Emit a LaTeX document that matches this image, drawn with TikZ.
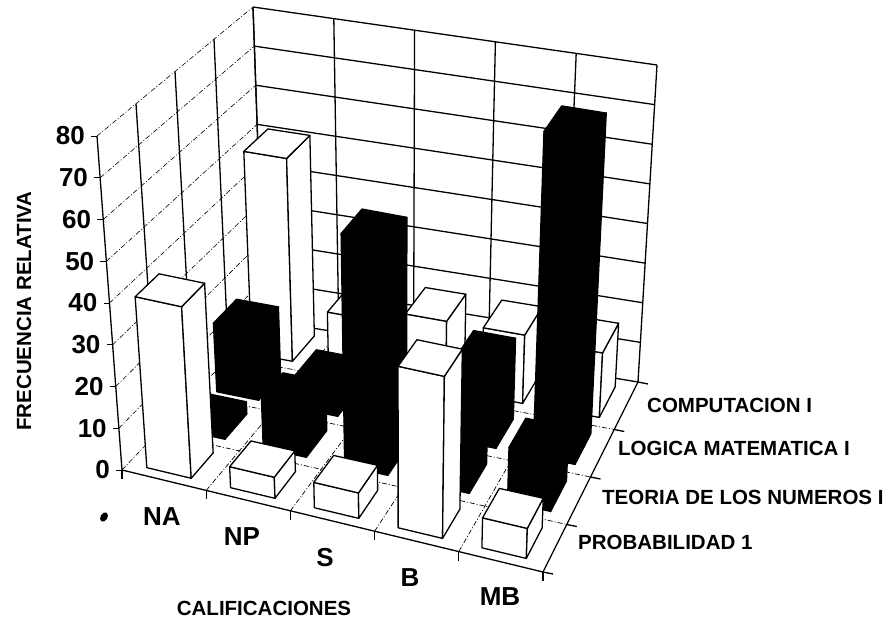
\documentclass[tikz,border=0pt]{standalone}
\usepackage{fontspec}
\setmainfont{Liberation Sans}
\makeatletter
\pgfkeys{/wcs/.cd, x/.store in=\wcsx, y/.store in=\wcsy, z/.store in=\wcsz}
\tikzdeclarecoordinatesystem{w}{%
  \pgfkeys{/wcs/.cd,x=0,y=0,z=0,#1}%
  \pgfmathsetmacro\wcsu{\wcsx/5}%
  \pgfmathsetmacro\wcsv{\wcsy/4}%
  \pgfmathsetmacro\wcst{\wcsz/80}%
  \pgfmathsetmacro\wcsA{(1-\wcsu)*(1-\wcsv)}%
  \pgfmathsetmacro\wcsB{\wcsu*(1-\wcsv)}%
  \pgfmathsetmacro\wcsC{(1-\wcsu)*\wcsv}%
  \pgfmathsetmacro\wcsD{\wcsu*\wcsv}%
  \pgfmathsetmacro\wcsX{(1-\wcst)*(\wcsA*122+\wcsB*543+\wcsC*264+\wcsD*638)+\wcst*(\wcsA*97+\wcsB*556+\wcsC*253+\wcsD*657)}%
  \pgfmathsetmacro\wcsY{(1-\wcst)*(\wcsA*470+\wcsB*572+\wcsC*320+\wcsD*382)+\wcst*(\wcsA*136+\wcsB*227+\wcsC*7+\wcsD*65)}%
  \pgfpoint{\wcsX pt}{-\wcsY pt}%
}
\makeatother
\tikzset{
  wallline/.style={line width=1.3pt},
  thinwall/.style={line width=0.6pt, dash pattern=on 5pt off 2pt on 1pt off 2pt},
  floorline/.style={line width=0.7pt, dash pattern=on 5pt off 2pt on 1pt off 2pt},
  barface/.style={draw=black, line width=1.3pt, line join=round},
  ylab/.style={font=\bfseries\fontsize{26}{26}\selectfont, anchor=east, inner sep=0pt},
  catlab/.style={font=\bfseries\fontsize{26}{26}\selectfont, inner sep=0pt},
  serlab/.style={font=\bfseries\fontsize{20.5}{20.5}\selectfont, anchor=west, inner sep=0pt},
  axlab/.style={font=\bfseries\fontsize{20.5}{20.5}\selectfont, inner sep=0pt},
}
\newcommand\drawbar[4]{%
  \pgfmathsetmacro\ba{#1+0.22}\pgfmathsetmacro\bb{#1+0.75}%
  \pgfmathsetmacro\bc{#2+0.18}\pgfmathsetmacro\bd{#2+0.83}%
  \filldraw[barface, fill=#4] (w cs:x=\ba,y=\bc,z=0) -- (w cs:x=\bb,y=\bc,z=0) -- (w cs:x=\bb,y=\bc,z=#3) -- (w cs:x=\ba,y=\bc,z=#3) -- cycle;
  \filldraw[barface, fill=#4] (w cs:x=\bb,y=\bc,z=0) -- (w cs:x=\bb,y=\bd,z=0) -- (w cs:x=\bb,y=\bd,z=#3) -- (w cs:x=\bb,y=\bc,z=#3) -- cycle;
  \filldraw[barface, fill=#4] (w cs:x=\ba,y=\bc,z=#3) -- (w cs:x=\bb,y=\bc,z=#3) -- (w cs:x=\bb,y=\bd,z=#3) -- (w cs:x=\ba,y=\bd,z=#3) -- cycle;
}
\begin{document}
\begin{tikzpicture}[x=1pt,y=-1pt]
\useasboundingbox[fill=white] (0,0) rectangle (885,624);
% left wall
\foreach \v in {0,10,...,80} \draw[thinwall] (w cs:x=0,y=0,z=\v) -- (w cs:x=0,y=4,z=\v);
\foreach \k in {0,...,4} \draw[wallline] (w cs:x=0,y=\k,z=0) -- (w cs:x=0,y=\k,z=80);
% back wall
\foreach \v in {0,10,...,80} \draw[wallline] (w cs:x=0,y=4,z=\v) -- (w cs:x=5,y=4,z=\v);
\foreach \k in {0,...,5} \draw[wallline] (w cs:x=\k,y=4,z=0) -- (w cs:x=\k,y=4,z=80);
% floor
\foreach \k in {1,...,4} \draw[floorline] (w cs:x=\k,y=0,z=0) -- (w cs:x=\k,y=4,z=0);
\foreach \k in {1,...,3} \draw[floorline] (w cs:x=0,y=\k,z=0) -- (w cs:x=5,y=\k,z=0);
\draw[wallline] (w cs:x=0,y=0,z=0) -- (w cs:x=5,y=0,z=0) -- (w cs:x=5,y=4,z=0);
% ticks
\foreach \k in {0,...,5} \draw[wallline] (w cs:x=\k,y=0,z=0) -- ++(0,9);
\foreach \k in {0,...,4} \draw[wallline] (w cs:x=5,y=\k,z=0) -- ++(10,2);
\foreach \v in {0,10,...,80} \draw[line width=0.8pt] (w cs:x=0,y=0,z=\v) -- ++(-6,0);
% bars, back to front
\drawbar{0}{3}{51}{white}
\drawbar{1}{3}{14}{white}
\drawbar{2}{3}{17}{white}
\drawbar{3}{3}{17}{white}
\drawbar{4}{3}{16}{white}
\drawbar{0}{2}{17}{black}
\drawbar{1}{2}{8}{black}
\drawbar{2}{2}{3}{black}
\drawbar{3}{2}{20}{black}
\drawbar{4}{2}{79}{black}
\drawbar{0}{1}{3}{black}
\drawbar{1}{1}{12}{black}
\drawbar{2}{1}{56}{black}
\drawbar{3}{1}{20}{black}
\drawbar{4}{1}{13}{black}
\drawbar{0}{0}{41}{white}
\drawbar{1}{0}{5}{white}
\drawbar{2}{0}{6}{white}
\drawbar{3}{0}{38}{white}
\drawbar{4}{0}{7}{white}
% labels
\foreach \v in {0,10,...,80} \node[ylab] (yl\v) at ([xshift=-12pt]w cs:x=0,y=0,z=\v) {\v};
\node[axlab, rotate=90] (ytitle) at (24,311) {FRECUENCIA RELATIVA};
\node[catlab] (cNA) at (162,517) {NA};
\node[catlab] (cNP) at (242,537) {NP};
\node[catlab] (cS) at (325,558) {S};
\node[catlab] (cB) at (410,578) {B};
\node[catlab] (cMB) at (500,597) {MB};
\node[axlab] (xtitle) at (264,608) {CALIFICACIONES};
\node[serlab] (s3) at (647,405) {COMPUTACION I};
\node[serlab] (s2) at (618,448) {LOGICA MATEMATICA I};
\node[serlab] (s1) at (602,497) {TEORIA DE LOS NUMEROS I};
\node[serlab] (s0) at (578,542) {PROBABILIDAD 1};
\fill[rotate around={-30:(104,517)}] (104,517) ellipse (3.5pt and 5pt);
\end{tikzpicture}
\end{document}
